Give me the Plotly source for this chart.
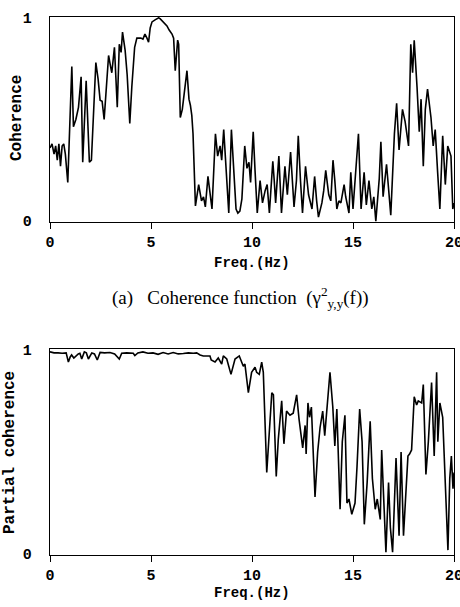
import plotly.graph_objects as go

# ---- data ----
freq_a = [0.00, 0.10, 0.20, 0.28, 0.36, 0.44, 0.52, 0.60, 0.68, 0.76, 0.88, 0.97, 1.08, 1.16, 1.28,
          1.41, 1.54, 1.62, 1.79, 1.95, 2.05, 2.27, 2.38, 2.48, 2.58, 2.68, 2.80, 2.90, 3.00, 3.06,
          3.19, 3.33, 3.43, 3.52, 3.59, 3.72, 3.82, 3.95, 4.05, 4.19, 4.30, 4.40, 4.50, 4.60, 4.70,
          4.80, 4.88, 4.96, 5.05, 5.20, 5.38, 5.46, 5.60, 5.79, 5.90, 6.04, 6.12, 6.20, 6.32, 6.37,
          6.45, 6.55, 6.78, 6.88, 6.95, 7.02, 7.08, 7.20, 7.36, 7.50, 7.60, 7.69, 7.82, 7.92, 8.02,
          8.19, 8.30, 8.42, 8.50, 8.60, 8.70, 8.85, 8.98, 9.10, 9.21, 9.30, 9.40, 9.50, 9.64, 9.75,
          9.85, 9.93, 10.06, 10.15, 10.26, 10.40, 10.52, 10.65, 10.75, 10.86, 11.03, 11.10, 11.17,
          11.33, 11.46, 11.63, 11.75, 11.91, 12.08, 12.20, 12.29, 12.40, 12.50, 12.65, 12.80, 12.97,
          13.10, 13.20, 13.29, 13.46, 13.55, 13.65, 13.80, 13.90, 14.01, 14.10, 14.20, 14.30, 14.40,
          14.56, 14.64, 14.80, 14.89, 15.00, 15.14, 15.27, 15.40, 15.55, 15.66, 15.79, 15.93, 16.03,
          16.13, 16.30, 16.38, 16.49, 16.66, 16.87, 17.05, 17.16, 17.28, 17.45, 17.58, 17.75, 17.86,
          17.95, 18.03, 18.12, 18.17, 18.28, 18.37, 18.48, 18.58, 18.69, 18.86, 18.97, 19.07, 19.19,
          19.30, 19.44, 19.57, 19.69, 19.85, 19.94, 20.00]
coherence = [0.36, 0.38, 0.33, 0.37, 0.30, 0.38, 0.27, 0.37, 0.38, 0.33, 0.19, 0.45, 0.76, 0.465, 0.50,
             0.56, 0.71, 0.29, 0.69, 0.29, 0.30, 0.78, 0.70, 0.595, 0.59, 0.50, 0.66, 0.815, 0.76, 0.73,
             0.855, 0.56, 0.87, 0.83, 0.93, 0.84, 0.72, 0.48, 0.66, 0.855, 0.90, 0.90, 0.90, 0.895, 0.92,
             0.90, 0.88, 0.95, 0.98, 0.99, 1.00, 0.995, 0.98, 0.96, 0.94, 0.92, 0.90, 0.74, 0.89, 0.87,
             0.51, 0.55, 0.74, 0.60, 0.57, 0.52, 0.43, 0.075, 0.18, 0.10, 0.12, 0.07, 0.22, 0.15, 0.06,
             0.43, 0.32, 0.37, 0.30, 0.45, 0.30, 0.04, 0.45, 0.26, 0.06, 0.04, 0.05, 0.11, 0.37, 0.26,
             0.29, 0.19, 0.44, 0.25, 0.04, 0.20, 0.09, 0.15, 0.18, 0.04, 0.295, 0.20, 0.09,
             0.32, 0.04, 0.27, 0.13, 0.34, 0.07, 0.20, 0.42, 0.20, 0.04, 0.27, 0.13, 0.06,
             0.22, 0.10, 0.02, 0.09, 0.15, 0.25, 0.13, 0.10, 0.30, 0.20, 0.06, 0.10, 0.09,
             0.18, 0.12, 0.04, 0.24, 0.06, 0.28, 0.43, 0.06, 0.24, 0.08, 0.20, 0.06, 0.12,
             0.00, 0.21, 0.39, 0.12, 0.28, 0.03, 0.43, 0.58, 0.35, 0.55, 0.49, 0.37, 0.87,
             0.73, 0.89, 0.76, 0.66, 0.44, 0.60, 0.27, 0.55, 0.65, 0.51, 0.37, 0.45, 0.24,
             0.06, 0.42, 0.18, 0.37, 0.32, 0.06, 0.09]

freq_b = [0.00, 0.20, 0.40, 0.60, 0.80, 0.91, 1.00, 1.07, 1.18, 1.28, 1.40, 1.48, 1.57, 1.70, 1.80,
          1.90, 2.07, 2.20, 2.34, 2.48, 2.70, 2.97, 3.20, 3.43, 3.55, 3.80, 4.12, 4.20, 4.35, 4.60,
          4.85, 5.10, 5.35, 5.60, 5.85, 6.10, 6.35, 6.60, 6.85, 7.10, 7.26, 7.43, 7.59, 7.76, 7.92,
          7.98, 8.17, 8.33, 8.50, 8.58, 8.75, 8.96, 9.16, 9.37, 9.57, 9.65, 9.82, 9.98, 10.15, 10.23,
          10.36, 10.48, 10.56, 10.73, 10.86, 10.98, 11.06, 11.20, 11.30, 11.47, 11.58, 11.71, 11.88,
          12.04, 12.21, 12.33, 12.51, 12.63, 12.68, 12.77, 12.85, 12.94, 13.12, 13.25, 13.37, 13.50,
          13.60, 13.73, 13.86, 14.00, 14.10, 14.20, 14.30, 14.36, 14.47, 14.60, 14.70, 14.80, 14.94,
          15.10, 15.20, 15.33, 15.45, 15.56, 15.70, 15.85, 15.96, 16.10, 16.20, 16.35, 16.42, 16.55,
          16.63, 16.76, 16.85, 16.96, 17.13, 17.28, 17.38, 17.50, 17.60, 17.72, 17.80, 17.90, 18.03,
          18.15, 18.23, 18.40, 18.48, 18.61, 18.73, 18.89, 19.02, 19.14, 19.20, 19.30, 19.44, 19.55,
          19.60, 19.70, 19.79, 19.87, 19.95, 20.00]
partial = [0.99, 0.985, 0.985, 0.983, 0.985, 0.94, 0.965, 0.975, 0.96, 0.97, 0.98, 0.983, 0.955, 0.99, 0.985,
           0.955, 0.985, 0.98, 0.95, 0.987, 0.985, 0.987, 0.98, 0.955, 0.983, 0.985, 0.983, 0.972, 0.985, 0.99,
           0.983, 0.985, 0.978, 0.987, 0.98, 0.987, 0.98, 0.982, 0.985, 0.983, 0.985, 0.975, 0.97, 0.97, 0.97,
           0.95, 0.94, 0.96, 0.93, 0.97, 0.955, 0.88, 0.955, 0.97, 0.92, 0.93, 0.79, 0.89, 0.915, 0.89,
           0.88, 0.94, 0.89, 0.40, 0.59, 0.79, 0.78, 0.38, 0.56, 0.75, 0.54, 0.70, 0.68,
           0.69, 0.78, 0.66, 0.52, 0.63, 0.49, 0.74, 0.67, 0.72, 0.28, 0.50, 0.62, 0.70,
           0.58, 0.74, 0.89, 0.72, 0.53, 0.71, 0.40, 0.22, 0.55, 0.68, 0.25, 0.27, 0.195,
           0.25, 0.43, 0.71, 0.55, 0.146, 0.35, 0.65, 0.37, 0.22, 0.27, 0.17, 0.51, 0.20,
           0.01, 0.35, 0.13, 0.01, 0.47, 0.09, 0.50, 0.09, 0.30, 0.48, 0.49, 0.51, 0.77,
           0.73, 0.75, 0.74, 0.83, 0.39, 0.55, 0.84, 0.48, 0.89, 0.55, 0.74, 0.67, 0.35,
           0.24, 0.02, 0.37, 0.48, 0.32, 0.40]

x_ticks = [0, 5, 10, 15, 20]
x_tick_text = ["0", "5", "10", "15", "20"]
y_ticks = [0, 1]
y_tick_text = ["0", "1"]

W, H = 460, 607
MONO = "Liberation Mono"

def px(x):
    return x / W

def py(y):
    return 1 - y / H

fig = go.Figure()
fig.add_trace(go.Scatter(x=freq_a, y=coherence, mode="lines", xaxis="x", yaxis="y",
                         line=dict(color="black", width=1.6), showlegend=False))
fig.add_trace(go.Scatter(x=freq_b, y=partial, mode="lines", xaxis="x2", yaxis="y2",
                         line=dict(color="black", width=1.6), showlegend=False))

tick_font = dict(family=MONO, size=15, color="black", weight="bold")
xcommon = dict(range=[0, 20], tickvals=x_ticks, ticktext=x_tick_text, ticks="outside", ticklen=6,
               tickwidth=1.3, tickcolor="black", showline=True, linecolor="black", linewidth=1.3,
               mirror=True, showgrid=False, zeroline=False, tickfont=tick_font,
               ticklabeloverflow="allow", automargin=False)
ycommon = dict(range=[-0.004, 1.004], tickvals=y_ticks, ticktext=y_tick_text, ticks="",
               showline=True, linecolor="black", linewidth=1.3, mirror=True, showgrid=False,
               zeroline=False, tickfont=tick_font, ticklabelstandoff=14, automargin=False)

fig.update_layout(
    width=W, height=H, margin=dict(l=0, r=0, t=0, b=0, autoexpand=False),
    paper_bgcolor="white", plot_bgcolor="white",
    xaxis=dict(domain=[px(50), px(454)], anchor="y", **xcommon),
    yaxis=dict(domain=[py(222), py(17)], anchor="x", **ycommon),
    xaxis2=dict(domain=[px(50), px(454)], anchor="y2", **xcommon),
    yaxis2=dict(domain=[py(555), py(349)], anchor="x2", **ycommon),
)

NB = "\u00a0"
title_font = dict(family=MONO, size=14, color="black", weight="bold")
ytitle_font = dict(family=MONO, size=16, color="black", weight="bold")
caption = ("(a)" + NB * 3 + "Coherence function" + NB * 2 +
           "(\u03b3<sup>2</sup><sub>y,y</sub>(f))")
ann = [
    dict(text="Freq.(Hz)", x=px(252), y=py(263), font=title_font),
    dict(text="Freq.(Hz)", x=px(252), y=py(593), font=title_font),
    dict(text="Coherence", x=px(17), y=py(118), textangle=-90, font=ytitle_font),
    dict(text="Partial coherence", x=px(10), y=py(453), textangle=-90, font=ytitle_font),
    dict(text=caption, x=px(110), y=py(297), xanchor="left",
         font=dict(family="Liberation Serif", size=19, color="black")),
]
for a in ann:
    a.setdefault("xanchor", "center")
    fig.add_annotation(xref="paper", yref="paper", showarrow=False, yanchor="middle", **a)

fig.write_html("out.html")
